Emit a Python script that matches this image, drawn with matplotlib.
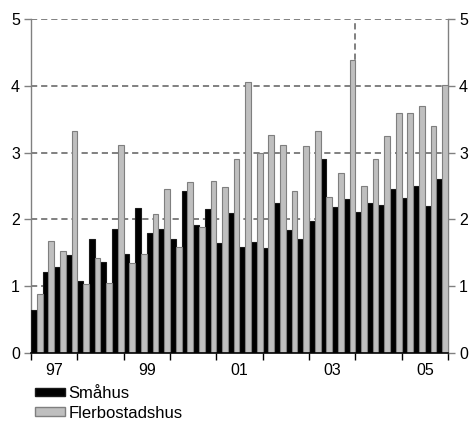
import matplotlib
matplotlib.use("Agg")
import matplotlib.pyplot as plt
from matplotlib.patches import Patch
from matplotlib.ticker import FixedLocator, NullFormatter

plt.rcParams['font.family'] = ['Liberation Sans', 'DejaVu Sans']

# Quarterly series, 1997 Q1 - 2005 Q4
start_year = 1997
years = list(range(1997, 2006))
smahus = [0.65, 1.21, 1.28, 1.46,
          1.08, 1.71, 1.36, 1.86,
          1.48, 2.17, 1.80, 1.86,
          1.71, 2.43, 1.92, 2.16,
          1.65, 2.10, 1.59, 1.66,
          1.57, 2.25, 1.84, 1.70,
          1.98, 2.90, 2.18, 2.30,
          2.11, 2.25, 2.21, 2.45,
          2.32, 2.50, 2.20, 2.60]
flerbostadshus = [0.88, 1.67, 1.53, 3.33,
                  1.04, 1.42, 1.05, 3.11,
                  1.34, 1.48, 2.08, 2.45,
                  1.59, 2.56, 1.89, 2.58,
                  2.48, 2.91, 4.05, 2.99,
                  3.26, 3.12, 2.43, 3.10,
                  3.33, 2.34, 2.69, 4.38,
                  2.50, 2.90, 3.25, 3.60,
                  3.60, 3.70, 3.40, 4.01]
tick_labels = ['97', '', '99', '', '01', '', '03', '', '05']
y_ticks = [0, 1, 2, 3, 4, 5]
legend_labels = ['Småhus', 'Flerbostadshus']

W, H = 470, 421
fig = plt.figure(figsize=(W / 100, H / 100), dpi=100)
ax = fig.add_axes([31 / W, (H - 353) / H, (448 - 31) / W, (353 - 19) / H])

q = 0.25
bw = q / 2
x0 = [start_year + i * q for i in range(len(smahus))]
x1 = [x + bw for x in x0]

ax.bar(x0, smahus, width=bw, align='edge', color='black',
       edgecolor='#1a1a1a', linewidth=0.8, zorder=3)
ax.bar(x1, flerbostadshus, width=bw, align='edge', color='#bfbfbf',
       edgecolor='#7f7f7f', linewidth=0.8, zorder=3)

grid_style = dict(color='#808080', linestyle=(0, (3.2, 2.0)), linewidth=1.4, zorder=1)
for y in y_ticks[1:]:
    ax.axhline(y, **grid_style)
ax.axvline(2004, **grid_style)

ax.set_xlim(start_year, start_year + len(years))
ax.set_ylim(0, 5)

ax.xaxis.set_major_locator(FixedLocator(list(range(1997, 2007))))
ax.xaxis.set_major_formatter(NullFormatter())
ax.xaxis.set_minor_locator(FixedLocator([y + 0.5 for y in years]))
ax.set_xticklabels(tick_labels, minor=True)
ax.tick_params(axis='x', which='major', direction='out', length=5, width=1, color='black')
ax.tick_params(axis='x', which='minor', length=0, pad=7, labelsize=11.5)

ax.set_yticks(y_ticks)
ax.tick_params(axis='y', direction='out', length=5, width=1, color='#808080',
               left=True, right=True, labelleft=True, labelright=True,
               labelsize=11.5, pad=3)

for s in ['left', 'right']:
    ax.spines[s].set_color('#808080')
    ax.spines[s].set_linewidth(1)
ax.spines['top'].set_visible(False)
ax.spines['bottom'].set_color('black')
ax.spines['bottom'].set_linewidth(1.2)
ax.spines['bottom'].set_zorder(4)

handles = [Patch(facecolor='black', edgecolor='#1a1a1a'),
           Patch(facecolor='#bfbfbf', edgecolor='#7f7f7f')]
fig.legend(handles, legend_labels, loc='upper left',
           bbox_to_anchor=(35 / W, 1 - 386 / H), frameon=False,
           fontsize=12, handlelength=1.8, handleheight=0.42,
           handletextpad=0.2, borderpad=0, borderaxespad=0, labelspacing=0.28)

fig.savefig('out.png', dpi=100)
